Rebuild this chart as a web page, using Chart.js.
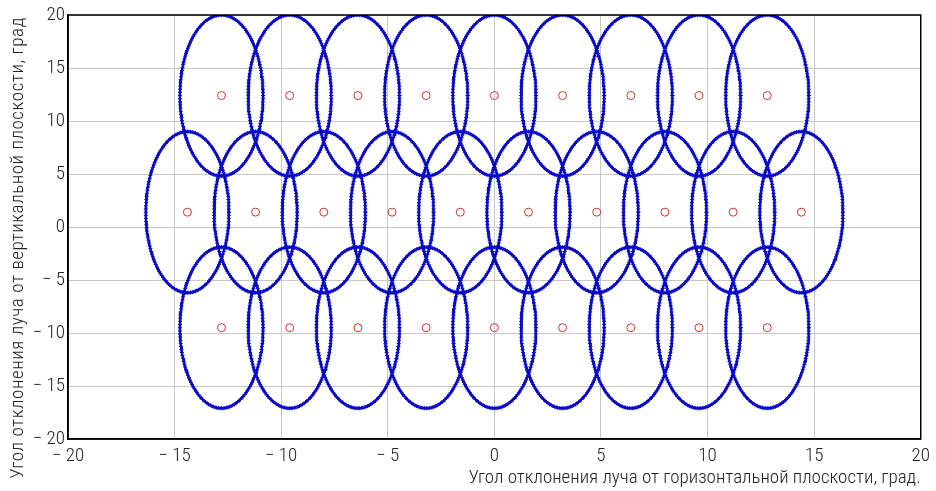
<!DOCTYPE html>
<html>
<head>
<meta charset="utf-8">
<script src="https://cdn.jsdelivr.net/npm/chart.js@4/dist/chart.umd.min.js"></script>
<style>
  html, body { margin: 0; padding: 0; background: #fff; }
  #wrap { width: 936px; height: 491px; }
</style>
</head>
<body>
<div id="wrap"><canvas id="c"></canvas></div>
<script>
// beam centres (degrees)
const topRowX = [-12.8, -9.6, -6.4, -3.2, 0, 3.2, 6.4, 9.6, 12.8];
const midRowX = [-14.4, -11.2, -8.0, -4.8, -1.6, 1.6, 4.8, 8.0, 11.2, 14.4];
const botRowX = [-12.8, -9.6, -6.4, -3.2, 0, 3.2, 6.4, 9.6, 12.8];
const rowY = [12.4, 1.4, -9.5];
// beam footprint half-widths
const halfX = 1.95;
const halfY = 7.6;
const xTicks = [-20, -15, -10, -5, 0, 5, 10, 15, 20];
const yTicks = [-20, -15, -10, -5, 0, 5, 10, 15, 20];
const yTitle = 'Угол отклонения луча от вертикальной плоскости, град';
const xTitle = 'Угол отклонения луча от горизонтальной плоскости, град.';

const FONT = "'Roboto Condensed', 'DejaVu Sans Condensed', sans-serif";

function outline(cx, cy){
    let pts = [];
    for(let i = 0; i <= 160; i++){
        let t = i / 160 * Math.PI * 2;
        pts.push({x: cx + halfX * Math.cos(t), y: cy + halfY * Math.sin(t)});
    }
    return pts;
}

let centres = [];
let datasets = [];
[topRowX, midRowX, botRowX].forEach((row, r) => {
    row.forEach(cx => {
        centres.push({x: cx, y: rowY[r]});
        datasets.push({
            data: outline(cx, rowY[r]),
            showLine: true,
            borderColor: '#0a0ac8',
            borderWidth: 2.5,
            pointStyle: 'cross',
            pointRadius: 2,
            pointBorderColor: '#0a0ac8',
            pointBorderWidth: 1,
            pointHoverRadius: 0
        });
    });
});
datasets.push({
    data: centres,
    showLine: false,
    pointStyle: 'circle',
    pointRadius: 4,
    pointBorderWidth: 1,
    pointBorderColor: '#d03030',
    pointBackgroundColor: 'rgba(0,0,0,0)'
});

function tickText(v){
    return v < 0 ? '\u2212 ' + Math.abs(v) : String(v);
}

const config = {
  type: 'scatter',
  data: { datasets: datasets },
  options: {
    responsive: true,
    maintainAspectRatio: false,
    animation: false,
    layout: { padding: { top: 15, right: 10, left: 0, bottom: 0 } },
    plugins: { legend: { display: false }, tooltip: { enabled: false } },
    scales: {
      x: {
        type: 'linear', min: -20, max: 20,
        afterBuildTicks: s => { s.ticks = xTicks.map(v => ({value: v})); },
        afterFit: s => { s.height = 52; },
        grid: { color: '#c8c8c8', lineWidth: 1, drawTicks: false },
        border: { color: '#000', width: 1.5 },
        ticks: { callback: tickText, color: '#222', padding: 6, maxRotation: 0,
                 font: { family: FONT, size: 19, weight: 300 } },
        title: { display: true, align: 'end', text: xTitle,
                 color: '#222', padding: { top: 0, bottom: 1 }, font: { family: FONT, size: 19, weight: 300 } }
      },
      y: {
        type: 'linear', min: -20, max: 20,
        afterBuildTicks: s => { s.ticks = yTicks.map(v => ({value: v})); },
        afterFit: s => { s.width = 68; },
        grid: { color: '#c8c8c8', lineWidth: 1, drawTicks: false },
        border: { color: '#000', width: 1.5 },
        ticks: { callback: tickText, color: '#222', padding: 3,
                 font: { family: FONT, size: 19, weight: 300 } },
        title: { display: false }
      }
    }
  },
  plugins: [{
    id: 'box',
    afterDraw(chart){
        const a = chart.chartArea, ctx = chart.ctx;
        ctx.save();
        ctx.strokeStyle = '#000';
        ctx.lineWidth = 1.5;
        ctx.strokeRect(a.left, a.top, a.right - a.left, a.bottom - a.top);
        // y title sits lower than the plot centre in the original
        ctx.translate(18, 248);
        ctx.rotate(-Math.PI / 2);
        ctx.font = '300 19px ' + FONT;
        ctx.letterSpacing = '0.6px';
        ctx.fillStyle = '#222';
        ctx.textAlign = 'center';
        ctx.textBaseline = 'middle';
        ctx.fillText(yTitle, 0, 0);
        ctx.restore();
    }
  }]
};

new Chart(document.getElementById('c').getContext('2d'), config);
</script>
</body>
</html>
